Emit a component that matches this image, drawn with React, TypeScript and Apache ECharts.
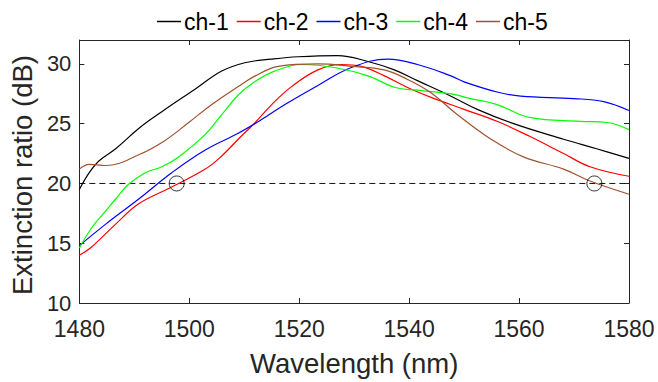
import React, { useEffect, useRef } from "react";
import * as echarts from "echarts";

const channelNames = ["ch-1", "ch-2", "ch-3", "ch-4", "ch-5"];
const channelColors = ["#000000", "#ff0000", "#0000ff", "#00ff00", "#a0522d"];

const ch1: [number, number][] = [
  [1480, 19.5], [1481.8, 20.9], [1483.6, 21.9], [1486.6, 22.9], [1490.8, 24.6], [1495, 26.0],
  [1501.1, 27.9], [1505.9, 29.4], [1510.1, 30.1], [1515, 30.4], [1519.8, 30.6], [1527, 30.7],
  [1532.5, 30.2], [1537.3, 29.5], [1541.5, 28.6], [1547.6, 27.3], [1552.4, 26.2], [1559, 25.0],
  [1568.1, 23.7], [1574.1, 22.9], [1580, 22.1],
];
const ch2: [number, number][] = [
  [1480, 14.0], [1482, 14.6], [1486.6, 16.6], [1490.8, 18.3], [1496.8, 19.7], [1502.9, 21.2],
  [1505.9, 22.3], [1508.9, 23.7], [1512, 25.1], [1515, 26.6], [1518.6, 28.1], [1523.4, 29.5],
  [1527.7, 29.95], [1531.3, 29.8], [1535.5, 29.0], [1540.3, 27.9], [1544, 27.2], [1550, 26.2],
  [1556, 25.2], [1562.1, 23.9], [1568.1, 22.5], [1572.9, 21.4], [1580, 20.6],
];
const ch3: [number, number][] = [
  [1480, 14.8], [1484.8, 16.6], [1490.8, 18.7], [1496.8, 20.9], [1502.9, 22.8], [1508.9, 24.2],
  [1513, 25.3], [1517.4, 26.6], [1523.4, 28.2], [1529.5, 29.7], [1536.1, 30.4], [1541.5, 29.95],
  [1547.6, 29.0], [1550, 28.5], [1556, 27.65], [1560.3, 27.3], [1569.9, 27.1], [1575.4, 26.85],
  [1580, 26.1],
];
const ch4: [number, number][] = [
  [1480, 14.6], [1482.4, 16.4], [1484.8, 17.7], [1486.6, 18.7], [1489, 19.95], [1492, 20.9],
  [1495, 21.4], [1498, 22.2], [1502.9, 24.1], [1505.9, 25.75], [1508.9, 27.4], [1511.9, 28.5],
  [1515.3, 29.35], [1520.4, 29.95], [1526.4, 29.7], [1532.5, 29.0], [1537.3, 28.05], [1541.5, 27.8],
  [1547.6, 27.5], [1551.2, 27.1], [1556, 26.6], [1562.1, 25.5], [1571.1, 25.2], [1576, 25.1],
  [1580, 24.5],
];
const ch5: [number, number][] = [
  [1480, 21.2], [1481.8, 21.6], [1484.8, 21.5], [1490.8, 22.4], [1495.6, 23.6], [1499.9, 25.1],
  [1504.1, 26.6], [1508.9, 28.1], [1512, 29.0], [1516.2, 29.8], [1523.4, 30.0], [1529.5, 29.8],
  [1535.5, 29.5], [1539.7, 28.7], [1543.9, 27.6], [1548.8, 25.75], [1554.9, 23.7], [1560.9, 22.2],
  [1568.1, 21.2], [1572.9, 20.2], [1580, 19.1],
];
const channelData = [ch1, ch2, ch3, ch4, ch5];

const thresholdValue = 20;
const thresholdRange = [1480, 1580];
const crossingPoints: [number, number][] = [[1497.7, 20], [1573.7, 20]];

const xMin = 1480, xMax = 1580, xStep = 20;
const yMin = 10, yMax = 32, yStep = 5;

const FONT = "'Liberation Sans', Arial, Helvetica, sans-serif";
const AXIS_COLOR = "#262626";

export default function App() {
  const ref = useRef<HTMLDivElement>(null);
  useEffect(() => {
    if (!ref.current) return;
    const chart = echarts.init(ref.current, undefined, { renderer: "svg" });
    const tickCommon = { inside: true, length: 5, lineStyle: { color: AXIS_COLOR } };
    const lineCommon = { lineStyle: { color: AXIS_COLOR, width: 1 } };
    const option: any = {
      animation: false,
      textStyle: { fontFamily: FONT },
      grid: { left: 77, right: 29, top: 40, bottom: 71, containLabel: false },
      legend: {
        data: channelNames,
        top: 5,
        left: 152,
        icon: "rect",
        itemWidth: 24,
        itemHeight: 1.5,
        itemGap: 8,
        textStyle: { fontSize: 23, color: "#000", fontFamily: FONT, padding: [0, 0, 0, -2] },
      },
      xAxis: [
        {
          type: "value", min: xMin, max: xMax, interval: xStep, position: "bottom",
          axisLine: lineCommon, axisTick: tickCommon, splitLine: { show: false },
          axisLabel: {
            color: AXIS_COLOR, fontSize: 23, margin: 14, fontFamily: FONT,
            formatter: (v: number) => String(v),
          },
          name: "Wavelength (nm)", nameLocation: "middle", nameGap: 46,
          nameTextStyle: { color: AXIS_COLOR, fontSize: 27.5, fontFamily: FONT },
        },
        {
          type: "value", min: xMin, max: xMax, interval: xStep, position: "top",
          axisLine: lineCommon, axisTick: tickCommon, splitLine: { show: false },
          axisLabel: { show: false },
        },
      ],
      yAxis: [
        {
          type: "value", min: yMin, max: yMax, interval: yStep, position: "left",
          axisLine: lineCommon, axisTick: tickCommon, splitLine: { show: false },
          axisLabel: {
            color: AXIS_COLOR, fontSize: 22, margin: 8, fontFamily: FONT, lineHeight: 17,
            formatter: (v: number) => (v % yStep === 0 ? String(v) : ""),
          },
          name: "Extinction ratio (dB)", nameLocation: "middle", nameGap: 37,
          nameTextStyle: { color: AXIS_COLOR, fontSize: 27.5, fontFamily: FONT, padding: [0, 7, 0, 0] },
        },
        {
          type: "value", min: yMin, max: yMax, interval: yStep, position: "right",
          axisLine: lineCommon, axisTick: tickCommon, splitLine: { show: false },
          axisLabel: { show: false },
        },
      ],
      series: [
        ...channelNames.map((name, i) => ({
          name,
          type: "line",
          data: channelData[i],
          showSymbol: false,
          symbol: "none",
          smooth: 0.4,
          color: channelColors[i],
          lineStyle: { color: channelColors[i], width: 1.2 },
          z: 3,
        })),
        {
          name: "threshold",
          type: "line",
          data: thresholdRange.map((x) => [x, thresholdValue]),
          symbol: "none",
          lineStyle: { color: "#111", width: 1, type: [6, 4] },
          z: 2,
        },
        {
          name: "crossings",
          type: "scatter",
          data: crossingPoints,
          symbol: "circle",
          symbolSize: 15,
          itemStyle: { color: "rgba(0,0,0,0)", borderColor: "#000", borderWidth: 1 },
          z: 4,
        },
      ],
    };
    chart.setOption(option);
    return () => chart.dispose();
  }, []);
  return (
    <div
      ref={ref}
      style={{ position: "fixed", left: 0, top: 0, width: 658, height: 382, background: "#fff" }}
    />
  );
}
